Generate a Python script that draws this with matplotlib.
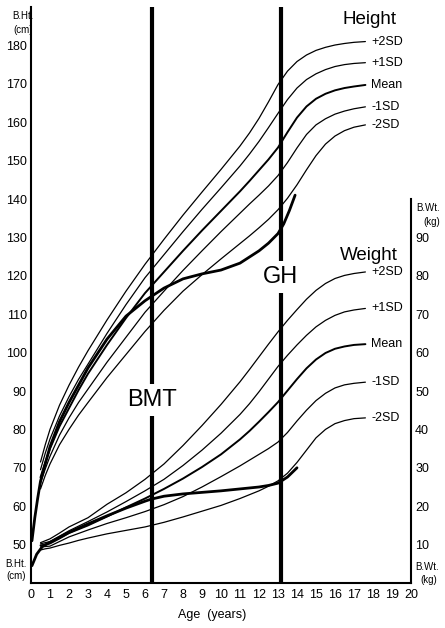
import numpy as np
import matplotlib
matplotlib.use("Agg")
import matplotlib.pyplot as plt

plt.rcParams['font.family'] = ['Liberation Sans', 'DejaVu Sans']

# ---------------- data ----------------
ages = [0.5, 0.75, 1, 1.5, 2, 2.5, 3, 4, 5, 6, 7, 8, 9, 10, 11, 11.5, 12, 12.5, 13, 13.5,
        14, 14.5, 15, 15.5, 16, 16.5, 17, 17.6]

ht_p2sd = [71.5, 76, 80, 86.3, 91.5, 96.2, 100.5, 108.5, 116, 123, 129.5, 135.8, 141.8, 147.7,
           153.8, 157.2, 161, 165.3, 169.8, 173.3, 175.8, 177.5, 178.7, 179.5, 180.1, 180.5, 180.8, 181]
ht_p1sd = [69.5, 73.8, 77.5, 83.5, 88.5, 93, 97, 105, 112.5, 119.5, 125.5, 131.5, 137.3, 142.9,
           148.6, 151.7, 155, 158.6, 162.3, 165.9, 168.9, 171.1, 172.6, 173.7, 174.5, 175, 175.3, 175.5]
ht_mean = [67.5, 71.4, 75, 80.8, 85.5, 90.2, 94.5, 102, 109, 115.5, 121, 126.5, 131.8, 136.9,
           142, 144.7, 147.5, 150.3, 153.4, 157.4, 161.2, 164.1, 166.1, 167.4, 168.3, 168.9, 169.3, 169.7]
ht_m1sd = [66, 69.7, 73, 78.5, 83, 87, 90.5, 97.5, 104, 110.5, 116, 121.4, 126.5, 131.5,
           136.3, 138.7, 141, 143.4, 146.1, 149.5, 153.3, 156.8, 159.3, 160.9, 162.1, 162.9, 163.5, 164]
ht_m2sd = [64.5, 68, 71, 76, 80, 83.7, 87, 93.5, 99.5, 105.5, 111, 116, 120.3, 124.4,
           128.4, 130.4, 132.5, 134.7, 137.2, 140.2, 143.7, 147.6, 151.3, 154.3, 156.4, 157.8, 158.7, 159.3]

wt_p2sd = [10.5, 11, 11.5, 13, 14.6, 15.8, 17, 20.5, 23.5, 27, 31, 35.8, 41, 46.5,
           52.4, 55.6, 58.9, 62.2, 65.4, 68.4, 71.2, 73.9, 76.2, 78, 79.3, 80.1, 80.6, 81]
wt_p1sd = [10.2, 10.5, 10.8, 12.2, 13.6, 14.8, 16, 18.5, 21.2, 24, 27, 30.6, 34.6, 39,
           43.9, 46.7, 49.8, 53.1, 56.4, 59.3, 62, 64.5, 66.7, 68.4, 69.7, 70.6, 71.1, 71.5]
wt_mean = [9.8, 10, 10.3, 11.6, 13, 14, 15, 17.3, 19.7, 22, 24.5, 27.2, 30.2, 33.5,
           37.4, 39.6, 42, 44.5, 47.1, 50.1, 53.1, 55.9, 58.2, 59.9, 61, 61.6, 62, 62.2]
wt_m1sd = [9.4, 9.5, 9.6, 10.8, 12, 12.9, 13.8, 15.5, 17, 18.6, 20.4, 22.5, 25, 27.7,
           30.5, 32, 33.5, 35, 36.7, 39.2, 42.2, 45, 47.5, 49.4, 50.8, 51.6, 52, 52.3]
wt_m2sd = [8.6, 8.9, 9.1, 9.8, 10.4, 11.1, 11.7, 12.8, 13.7, 14.6, 15.8, 17.2, 18.7, 20.2,
           22, 23, 24, 25.2, 26.6, 28.6, 31.4, 34.6, 37.8, 40, 41.5, 42.3, 42.8, 43]

sd_labels = ['+2SD', '+1SD', 'Mean', '-1SD', '-2SD']

pt_ht_ages = [0.05, 0.2, 0.35, 0.5, 1, 1.5, 2, 3, 4, 5, 6, 6.3, 7, 8, 9, 10, 11, 12, 12.5, 13,
              13.3, 13.6, 13.9]
pt_ht = [51, 57, 62, 66.5, 75.5, 82, 87, 96, 103.5, 109.5, 113.5, 114.5, 116.8, 119.2, 120.5,
         121.5, 123.3, 126.5, 128.5, 131, 133.5, 137, 141]

pt_wt_ages = [0.05, 0.3, 0.6, 1, 2, 3, 4, 5, 6, 6.3, 7, 8, 9, 10, 11, 12, 12.5, 13, 13.5, 14]
pt_wt = [4.5, 7.5, 9.5, 10.6, 13.2, 15.4, 17.5, 19.5, 21.3, 21.8, 22.6, 23.2, 23.6, 24.0, 24.5,
         25.0, 25.4, 26.0, 27.6, 30.0]

event_ages = [6.35, 13.15]
event_labels = ['BMT', 'GH']
event_label_ht = [87.7, 119.7]

ht_ticks = list(range(50, 181, 10))
wt_ticks = list(range(10, 91, 10))
age_ticks = list(range(0, 21))

# ---------------- figure ----------------
W, H = 445, 628
fig = plt.figure(figsize=(W / 100, H / 100), dpi=100)
fig.patch.set_facecolor('white')
ax = fig.add_axes([31 / W, 45 / H, 380 / W, 576 / H])
ax.set_xlim(0, 20)
ax.set_ylim(40, 190)
ax2 = ax.twinx()
ax2.set_ylim(0, 150)

for s in ['top', 'right']:
    ax.spines[s].set_visible(False)
for s in ['top', 'left', 'bottom']:
    ax2.spines[s].set_visible(False)
ax.spines['left'].set_linewidth(1.5)
ax.spines['bottom'].set_linewidth(1.5)
ax2.spines['right'].set_linewidth(1.5)
ax2.spines['right'].set_bounds(0, 100)

ax.set_xticks(age_ticks)
ax.set_yticks(ht_ticks)
ax2.set_yticks(wt_ticks)
ax.tick_params(axis='x', length=0, pad=4, labelsize=9)
ax.tick_params(axis='y', length=0, pad=3, labelsize=9)
ax2.tick_params(axis='y', length=0, pad=3, labelsize=9)

# reference curves
for vals, lab in zip([ht_p2sd, ht_p1sd, ht_mean, ht_m1sd, ht_m2sd], sd_labels):
    lw = 1.4 if lab == 'Mean' else 0.9
    ax.plot(ages, vals, color='black', lw=lw, solid_capstyle='round', solid_joinstyle='round')
    ax.text(ages[-1] + 0.3, vals[-1], lab, fontsize=9, ha='left', va='center')

for vals, lab in zip([wt_p2sd, wt_p1sd, wt_mean, wt_m1sd, wt_m2sd], sd_labels):
    lw = 1.4 if lab == 'Mean' else 0.9
    ax2.plot(ages, vals, color='black', lw=lw, solid_capstyle='round', solid_joinstyle='round')
    ax2.text(ages[-1] + 0.3, vals[-1], lab, fontsize=9, ha='left', va='center')

# patient
ax.plot(pt_ht_ages, pt_ht, color='black', lw=2.0, solid_capstyle='round', solid_joinstyle='round')
ax2.plot(pt_wt_ages, pt_wt, color='black', lw=2.0, solid_capstyle='round', solid_joinstyle='round')

# events
for a, lab, yl in zip(event_ages, event_labels, event_label_ht):
    ax.axvline(a, color='black', lw=3.0, zorder=3)
    ax.text(a, yl, lab, fontsize=17, ha='center', va='center', zorder=5,
            bbox=dict(boxstyle='square,pad=0.2', fc='white', ec='none'))

def ftext(x, y, s, **kw):
    fig.text(x / W, 1 - y / H, s, **kw)

ftext(23, 16, 'B.Ht.', fontsize=7, ha='center', va='center')
ftext(23, 30, '(cm)', fontsize=7, ha='center', va='center')
ftext(16, 564, 'B.Ht.', fontsize=7, ha='center', va='center')
ftext(16, 576, '(cm)', fontsize=7, ha='center', va='center')
ftext(428, 208, 'B.Wt.', fontsize=7, ha='center', va='center')
ftext(432, 222, '(kg)', fontsize=7, ha='center', va='center')
ftext(427, 567, 'B.Wt.', fontsize=7, ha='center', va='center')
ftext(429, 580, '(kg)', fontsize=7, ha='center', va='center')

ftext(370, 19, 'Height', fontsize=13.5, ha='center', va='center')
ftext(369, 255, 'Weight', fontsize=13.5, ha='center', va='center')
ftext(212, 615, 'Age  (years)', fontsize=9, ha='center', va='center')

fig.savefig('out.png', dpi=100, facecolor='white')
